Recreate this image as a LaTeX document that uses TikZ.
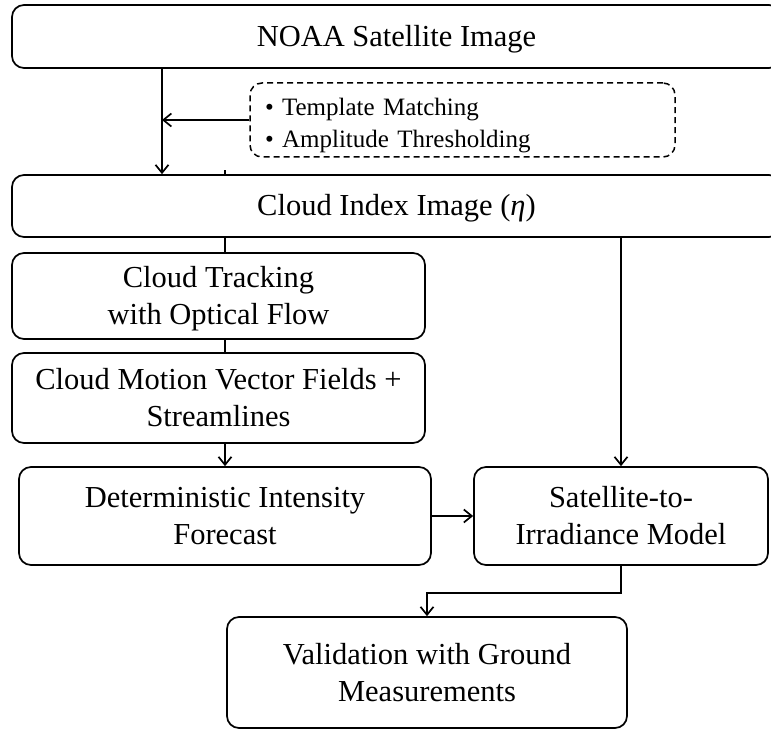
\documentclass[tikz,border=0pt]{standalone}
\usepackage{fontspec}
\setmainfont{Liberation Serif}
\usetikzlibrary{arrows.meta}
\begin{document}
\begin{tikzpicture}[x=1pt,y=-1pt,
 box/.style={draw, line width=1.7pt, rounded corners=12pt, align=center, inner sep=0pt, text height=20pt, text depth=0pt, font=\fontsize{30.5}{37}\selectfont},
 twoline/.style={text height=57pt, text depth=-7pt},
 dbox/.style={draw, line width=1.5pt, dash pattern=on 6pt off 4pt, rounded corners=12pt, inner xsep=15pt, inner ysep=0pt, align=left, text height=16.5pt, text depth=24.5pt, font=\fontsize{25}{31.5}\selectfont},
 conn/.style={line width=1.7pt},
 arr/.style={conn, -{Straight Barb[length=8pt,width=13pt,line width=1.7pt]}}
]
\clip (0,0) rectangle (771,730);
\node[box, minimum width=769pt, minimum height=63pt] (noaa) at (396.5,36.5) {NOAA Satellite Image};
\node[dbox, text width=395pt, minimum height=74pt] (tm) at (462.5,120) {• Template Matching\\• Amplitude Thresholding};
\node[box, minimum width=769pt, minimum height=62pt] (cidx) at (396.5,206) {Cloud Index Image ({\itshape η})};
\node[box, twoline, minimum width=413pt, minimum height=86pt] (track) at (218.5,296) {Cloud Tracking\\with Optical Flow};
\node[box, twoline, minimum width=413pt, minimum height=90pt] (motion) at (218.5,398) {Cloud Motion Vector Fields +\\Streamlines};
\node[box, twoline, minimum width=412pt, minimum height=98pt] (det) at (225,516) {Deterministic Intensity\\Forecast};
\node[box, twoline, minimum width=294pt, minimum height=98pt] (sat) at (621,516) {Satellite-to-\\Irradiance Model};
\node[box, twoline, minimum width=400pt, minimum height=111pt] (val) at (427,672.5) {Validation with Ground\\Measurements};
\coordinate (xa) at (162,0);
\coordinate (xb) at (225,0);
\draw[arr] (noaa.south -| xa) -- (cidx.north -| xa);
\draw[arr] (tm.west) -- (tm.west -| xa);
\draw[conn] (cidx.north -| xb) -- ++(0,-4);
\draw[conn] (cidx.south -| xb) -- (track.north -| xb);
\draw[conn] (track.south -| xb) -- (motion.north -| xb);
\draw[arr] (motion.south -| xb) -- (det.north);
\draw[arr] (cidx.south -| sat.north) -- (sat.north);
\draw[arr] (det.east) -- (sat.west);
\draw[arr] (sat.south) -- ++(0,27) -| (val.north);
\end{tikzpicture}
\end{document}
